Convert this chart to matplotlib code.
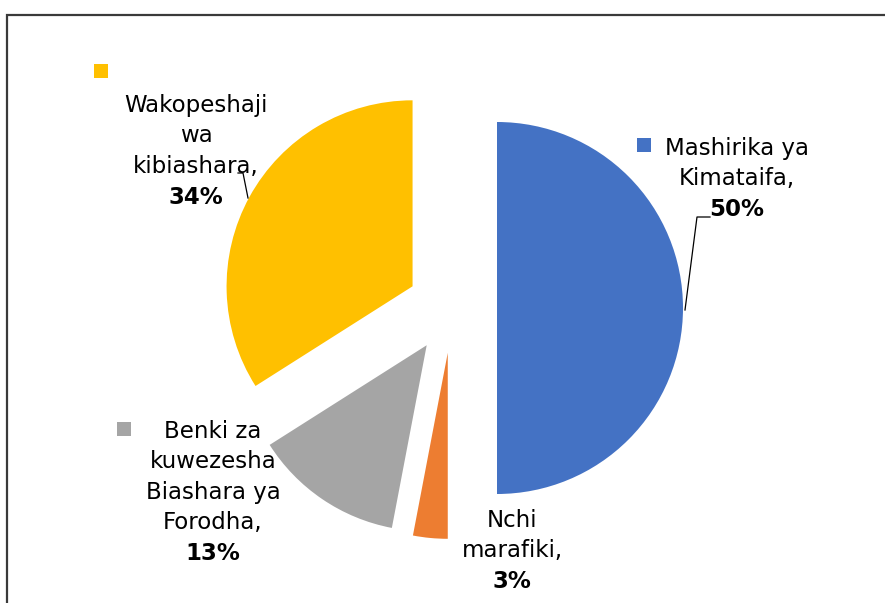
import matplotlib.pyplot as plt
from matplotlib.patches import Rectangle

# Data
labels = ['Mashirika ya Kimataifa', 'Nchi marafiki', 'Benki za kuwezesha Biashara ya Forodha', 'Wakopeshaji wa kibiashara']
shares = [50, 3, 13, 34]
colors = ['#4472C4', '#ED7D31', '#A5A5A5', '#FFC000']

# how each label is wrapped in the picture
label_lines = [
    ['Mashirika ya', 'Kimataifa,'],
    ['Nchi', 'marafiki,'],
    ['Benki za', 'kuwezesha', 'Biashara ya', 'Forodha,'],
    ['Wakopeshaji', 'wa', 'kibiashara,'],
]

W, H = 885, 603
fig = plt.figure(figsize=(W / 100, H / 100), dpi=100)
ax = fig.add_axes([0, 0, 1, 1])

# chart area border (runs off the right and bottom edges)
ax.add_patch(Rectangle((7, -20), W + 40, H - 15 + 20, fill=False,
                       edgecolor='#3a3a3a', linewidth=1.6))

# exploded pie
ax.pie(shares, colors=colors, startangle=90, counterclock=False,
       center=(452, H - 308), radius=186, explode=[45] * len(shares),
       wedgeprops={'linewidth': 0}, frame=True)
ax.set_xlim(0, W)
ax.set_ylim(0, H)
ax.set_aspect('equal')
ax.axis('off')

font = 'DejaVu Sans'
fs = 16.5
step = 30.5

# label anchor: x centre, first baseline (image px), key position or None
label_pos = [
    (737, 155, (644, 145)),
    (512, 527, None),
    (213, 438, (124, 429)),
    (196, 112, (101, 71)),
]

for lines, share, col, (lx, ly, key) in zip(label_lines, shares, colors, label_pos):
    for i, line in enumerate(lines):
        ax.text(lx, H - (ly + i * step), line, ha='center', va='baseline',
                fontsize=fs, family=font, color='#000000')
    ax.text(lx, H - (ly + len(lines) * step), f'{share}%', ha='center',
            va='baseline', fontsize=fs, family=font, fontweight='bold',
            color='#000000')
    if key is not None:
        ax.add_patch(Rectangle((key[0] - 7, H - key[1] - 7), 14, 14,
                               facecolor=col, edgecolor='none'))

# leader lines
ax.plot([238, 243, 248], [H - 173, H - 173, H - 198], color='#000000', lw=0.9)
ax.plot([710, 697, 685], [H - 217, H - 217, H - 310], color='#000000', lw=0.9)

fig.savefig('out.png', dpi=100, facecolor='white')
